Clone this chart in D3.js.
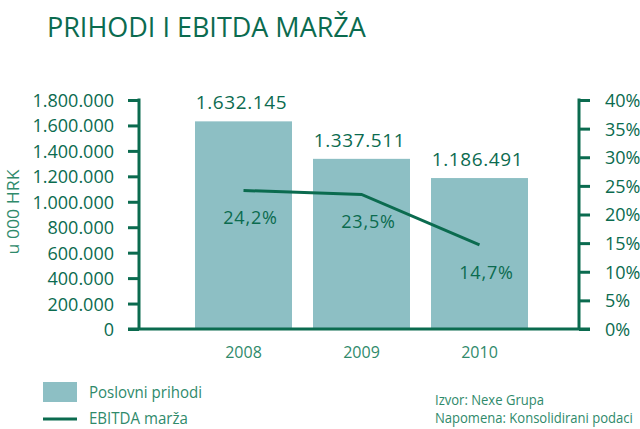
<!DOCTYPE html>
<html>
<head>
<meta charset="utf-8">
<script src="https://cdn.jsdelivr.net/npm/d3@7"></script>
<style>
  html, body { margin: 0; padding: 0; background: #fff; }
  svg { display: block; font-family: "Open Sans", "Noto Sans", sans-serif; }
</style>
</head>
<body>
<svg id="chart" width="640" height="429"></svg>
<script>
// Data
const years = ["2008", "2009", "2010"];
const revenue = [1632145, 1337511, 1186491];          // Poslovni prihodi, u 000 HRK
const ebitdaMargin = [24.2, 23.5, 14.7];              // EBITDA marža, %
const revenueTicks = [0, 200000, 400000, 600000, 800000, 1000000, 1200000, 1400000, 1600000, 1800000];
const marginTicks = [0, 5, 10, 15, 20, 25, 30, 35, 40];

const DARK = "#0b6b4f";
const SOFT = "#2f8a6b";
const BAR = "#8dbfc4";

const hr = d3.formatLocale({ decimal: ",", thousands: ".", grouping: [3], currency: ["", " kn"] });
const fmtInt = hr.format(",d");
const fmtPct = v => hr.format(".1f")(v) + "%";

const svg = d3.select("#chart");

// Condensed text: squeeze horizontally to a target width
function narrowText(parent, x, y, size, width, str, fill) {
  const t = parent.append("text").attr("font-size", size).attr("fill", fill).text(str);
  const natural = t.node().getComputedTextLength();
  t.attr("transform", `translate(${x},${y}) scale(${width / natural},1)`);
  return t;
}

// Scales
const x = d3.scaleBand().domain(years).range([184.5, 538.5]).paddingInner(0.178).paddingOuter(0.089);
const yL = d3.scaleLinear().domain([0, 1800000]).range([329, 100]);
const yR = d3.scaleLinear().domain([0, 40]).range([329, 100]);

// Title
narrowText(svg, 47, 37, 28, 319, "PRIHODI I EBITDA MARŽA", DARK);

// Bars
svg.append("g").selectAll("rect")
  .data(years)
  .join("rect")
  .attr("x", d => x(d))
  .attr("width", x.bandwidth())
  .attr("y", (d, i) => yL(revenue[i]))
  .attr("height", (d, i) => yL(0) - yL(revenue[i]))
  .attr("fill", BAR);

// Bar value labels
svg.append("g").selectAll("text")
  .data(years)
  .join("text")
  .attr("x", d => x(d) + x.bandwidth() / 2 - 2)
  .attr("y", (d, i) => yL(revenue[i]) - 12)
  .attr("text-anchor", "middle")
  .attr("font-size", 19).attr("font-weight", 500).attr("letter-spacing", 0.6)
  .attr("fill", DARK)
  .text((d, i) => fmtInt(revenue[i]));

// Left axis
const leftAxis = d3.axisLeft(yL).tickValues(revenueTicks).tickFormat(fmtInt).tickSize(11).tickPadding(14);
const gL = svg.append("g").attr("transform", "translate(139,0)").call(leftAxis);
gL.select(".domain").attr("stroke", DARK).attr("stroke-width", 3).attr("d", `M0,${yR(40) - 1.5}V${yR(0)}`);
gL.selectAll(".tick line").attr("stroke", DARK).attr("stroke-width", 3);
gL.selectAll(".tick text").attr("fill", DARK).attr("font-size", 18).attr("font-weight", 500)
  .attr("font-family", "'Open Sans', sans-serif").attr("dy", "0.36em");

// Right axis
const rightAxis = d3.axisRight(yR).tickValues(marginTicks).tickFormat(d => d + "%").tickSize(11).tickPadding(15);
const gR = svg.append("g").attr("transform", "translate(579,0)").call(rightAxis);
gR.select(".domain").attr("stroke", DARK).attr("stroke-width", 3).attr("d", `M0,${yR(40) - 1.5}V${yR(0)}`);
gR.selectAll(".tick line").attr("stroke", DARK).attr("stroke-width", 3);
gR.selectAll(".tick text").attr("fill", DARK).attr("font-size", 18).attr("font-weight", 500)
  .attr("font-family", "'Open Sans', sans-serif").attr("dy", "0.36em");

// Baseline
const xAxis = d3.axisBottom(x).tickSize(0).tickPadding(15);
const gX = svg.append("g").attr("transform", `translate(0,${yL(0)})`).call(xAxis);
gX.select(".domain").attr("stroke", DARK).attr("stroke-width", 3).attr("d", "M128,0H590");
gX.selectAll(".tick text").attr("fill", SOFT).attr("font-size", 16)
  .attr("font-family", "'Open Sans', sans-serif").attr("dy", "0.9em");

// Y axis title
svg.append("text")
  .attr("transform", "translate(19,212) rotate(-90)")
  .attr("text-anchor", "middle")
  .attr("font-size", 16).attr("fill", SOFT)
  .attr("textLength", 85).attr("lengthAdjust", "spacingAndGlyphs")
  .text("u 000 HRK");

// EBITDA margin line
const line = d3.line()
  .x((d, i) => x(years[i]) + x.bandwidth() / 2)
  .y(d => yR(d));
svg.append("path")
  .datum(ebitdaMargin)
  .attr("d", line)
  .attr("fill", "none")
  .attr("stroke", DARK)
  .attr("stroke-width", 3);

// Margin labels
svg.append("g").selectAll("text")
  .data(ebitdaMargin)
  .join("text")
  .attr("x", (d, i) => x(years[i]) + x.bandwidth() / 2 + 7)
  .attr("y", d => yR(d) + 34)
  .attr("text-anchor", "middle")
  .attr("font-size", 18).attr("letter-spacing", 0.8)
  .attr("fill", DARK)
  .text(d => fmtPct(d));

// Legend
const legend = svg.append("g");
legend.append("rect").attr("x", 43).attr("y", 382).attr("width", 34).attr("height", 20).attr("fill", BAR);
legend.append("line").attr("x1", 43).attr("x2", 77).attr("y1", 419).attr("y2", 419)
  .attr("stroke", DARK).attr("stroke-width", 3);
narrowText(legend, 89, 398, 17, 113, "Poslovni prihodi", SOFT);
narrowText(legend, 89, 424, 17, 99, "EBITDA marža", SOFT);

// Source notes
narrowText(svg, 435, 405, 14.5, 109, "Izvor: Nexe Grupa", SOFT);
narrowText(svg, 435, 423, 14.5, 198, "Napomena: Konsolidirani podaci", SOFT);
</script>
</body>
</html>
